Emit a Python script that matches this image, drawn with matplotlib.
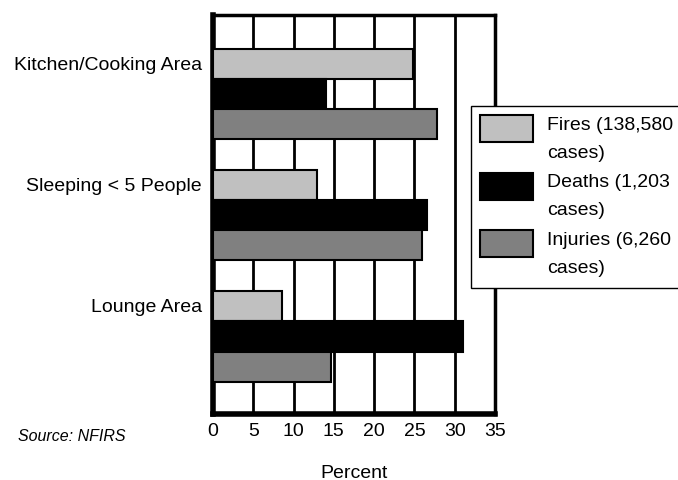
import matplotlib
matplotlib.use("Agg")
import matplotlib.pyplot as plt
from matplotlib.patches import Rectangle
from matplotlib.legend_handler import HandlerPatch
from matplotlib.container import BarContainer
import numpy as np

plt.rcParams['font.family'] = ['Liberation Sans', 'DejaVu Sans']

categories = ["Kitchen/Cooking Area", "Sleeping < 5 People", "Lounge Area"]
series_names = ["Fires (138,580\ncases)", "Deaths (1,203\ncases)", "Injuries (6,260\ncases)"]
fires = [24.8, 12.9, 8.6]
deaths = [14.0, 26.6, 31.0]
injuries = [27.8, 25.9, 14.6]
colors = ["#c0c0c0", "#000000", "#808080"]
xticks = [0, 5, 10, 15, 20, 25, 30, 35]

fig = plt.figure(figsize=(6.78, 4.81), dpi=100)
ax = fig.add_axes([213/678, 1-415/481, (495-213)/678, (415-16)/481])

y = np.arange(len(categories))
h = 0.248
for i, (vals, name, c) in enumerate(zip([fires, deaths, injuries], series_names, colors)):
    ax.barh(y + (i - 1) * h, vals, height=h, color=c, edgecolor="black",
            linewidth=1.5, label=name, zorder=3)

ax.set_xlim(0, 35)
ax.set_ylim(2.64, -0.655)
ax.set_xticks(xticks)
ax.set_xticklabels([str(t) for t in xticks], fontsize=14)
ax.set_yticks(y - h * 1.05)
ax.set_yticklabels(categories, fontsize=14)
ax.tick_params(axis='both', length=0, pad=6)
ax.tick_params(axis='y', pad=8)
ax.xaxis.grid(True, color="black", linewidth=2, zorder=0)
ax.set_axisbelow(True)
for s in ["left", "bottom"]:
    ax.spines[s].set_linewidth(4)
for s in ["top", "right"]:
    ax.spines[s].set_linewidth(2.5)
ax.set_xlabel("Percent", fontsize=14, labelpad=18)

fig.text(18/678, 1-441/481, "Source: NFIRS", fontsize=11.5, style="italic")


def top_rect(legend, orig_handle, xdescent, ydescent, width, height, fontsize):
    rh = 1.39 * fontsize
    return Rectangle((-xdescent, -ydescent + height - rh), width, rh)


def from_first(legend_handle, orig_handle):
    legend_handle.update_from(orig_handle.patches[0])


leg = ax.legend(loc="upper left", bbox_to_anchor=(471/678, 1-107/481),
                bbox_transform=fig.transFigure, fontsize=14, frameon=True,
                fancybox=False, edgecolor="black", framealpha=1,
                handlelength=2.75, handleheight=3.5, handletextpad=0.7,
                labelspacing=0.45, borderpad=0.45, borderaxespad=0,
                handler_map={BarContainer: HandlerPatch(patch_func=top_rect,
                                                        update_func=from_first)})
leg.get_frame().set_linewidth(1)
for t in leg.get_texts():
    t.set_linespacing(1.85)

fig.savefig("out.png", dpi=100)
